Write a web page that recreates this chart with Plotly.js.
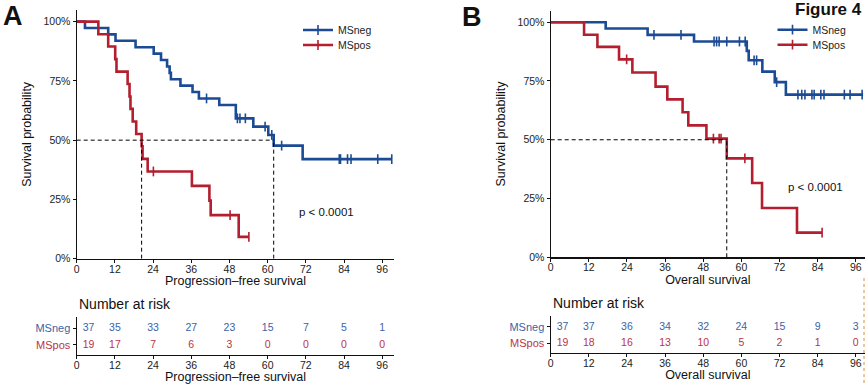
<!DOCTYPE html>
<html><head><meta charset="utf-8">
<script src="https://cdn.plot.ly/plotly-3.0.1.min.js"></script>
<style>html,body{margin:0;padding:0;background:#fff}#chart{width:865px;height:384px}</style>
</head><body><div id="chart"></div>
<script>
// ---- Data ----
const groups = ['MSneg', 'MSpos'];
const monthTicks = [0, 12, 24, 36, 48, 60, 72, 84, 96];

// Panel A: progression-free survival
const pfsNegTime = [0, 2.6, 9.9, 12.2, 18.5, 24.2, 26.5, 28.4, 29.2, 29.6, 32.6, 36.4, 38.4, 44.8, 50.0, 55.5, 60.2, 61.9, 71.0, 99.0];
const pfsNegSurv = [1, 0.973, 0.946, 0.919, 0.892, 0.865, 0.838, 0.811, 0.784, 0.757, 0.730, 0.703, 0.676, 0.648, 0.592, 0.557, 0.522, 0.477, 0.420, 0.420];
const pfsNegCens = [40.8, 50.5, 51.3, 53.0, 59.2, 61.3, 64.4, 82.5, 82.9, 85.1, 86.2, 94.6, 99.0];
const pfsPosTime = [0, 6.8, 9.9, 12.1, 12.5, 16.0, 16.6, 16.9, 17.6, 18.7, 20.4, 20.7, 22.3, 36.2, 41.7, 42.1, 50.9, 54.1];
const pfsPosSurv = [1, 0.947, 0.895, 0.842, 0.789, 0.737, 0.684, 0.632, 0.579, 0.526, 0.474, 0.421, 0.368, 0.307, 0.245, 0.184, 0.092, 0.092];
const pfsPosCens = [24.1, 48.2, 54.1];
const pfsRiskNeg = [37, 35, 33, 27, 23, 15, 7, 5, 1];
const pfsRiskPos = [19, 17, 7, 6, 3, 0, 0, 0, 0];

// Panel B: overall survival
const osNegTime = [0, 17.3, 30.5, 45.1, 61.7, 62.3, 66.6, 70.5, 74.0, 98.3];
const osNegSurv = [1, 0.973, 0.946, 0.918, 0.878, 0.838, 0.790, 0.745, 0.692, 0.692];
const osNegCens = [32.5, 41.0, 51.4, 52.2, 53.0, 55.4, 59.4, 61.2, 64.0, 64.8, 71.1, 77.8, 79.0, 80.0, 82.2, 82.9, 85.0, 86.0, 92.4, 94.2, 98.0];
const osPosTime = [0, 10.5, 14.7, 21.5, 25.7, 33.0, 36.7, 41.5, 43.3, 49.0, 55.4, 63.4, 66.5, 77.5, 85.4];
const osPosSurv = [1, 0.947, 0.895, 0.842, 0.786, 0.726, 0.672, 0.617, 0.561, 0.505, 0.421, 0.316, 0.210, 0.105, 0.105];
const osPosCens = [23.9, 51.2, 53.0, 53.6, 61.1, 85.4];
const osRiskNeg = [37, 37, 36, 34, 32, 24, 15, 9, 3];
const osRiskPos = [19, 18, 16, 13, 10, 5, 2, 1, 0];

const pText = 'p < 0.0001';

// ---- Styling ----
const W = 865, H = 384;
const FONT = 'Liberation Sans, Arial, sans-serif';
const blue = '#1c4b95', red = '#b31f2e';
const blueTxt = '#3b63a6', redTxt = '#bb3346';
const px = v => v / W, py = v => 1 - v / H;

function survAt(t, times, surv) {
  let s = surv[0];
  for (let i = 0; i < times.length; i++) if (times[i] <= t) s = surv[i];
  return s;
}
function median(times, surv) {
  for (let i = 0; i < surv.length; i++) if (surv[i] <= 0.5) return times[i];
  return null;
}

const traces = [];
function addPanel(xa, ya, defs, legNames) {
  const meds = [];
  defs.forEach((d, k) => {
    traces.push({x: d.time, y: d.surv, xaxis: xa, yaxis: ya, mode: 'lines', cliponaxis: false,
      line: {shape: 'hv', color: d.color, width: 2.6}, showlegend: false, hoverinfo: 'skip'});
    traces.push({x: d.cens, y: d.cens.map(t => survAt(t, d.time, d.surv)), xaxis: xa, yaxis: ya,
      mode: 'markers', cliponaxis: false,
      marker: {symbol: 'line-ns-open', size: 7, color: d.color, line: {color: d.color, width: 1.6}},
      showlegend: false, hoverinfo: 'skip'});
    traces.push({x: [null], y: [null], xaxis: xa, yaxis: ya, mode: 'lines+markers', name: d.name,
      legend: legNames[k], line: {color: d.color, width: 2.6},
      marker: {symbol: 'line-ns-open', size: 7, color: d.color, line: {color: d.color, width: 1.6}}});
    const m = median(d.time, d.surv);
    if (m !== null) meds.push(m);
  });
  if (meds.length) {
    const mx = Math.max(...meds);
    traces.push({x: [0, mx], y: [0.5, 0.5], xaxis: xa, yaxis: ya, mode: 'lines',
      line: {color: '#000', width: 1, dash: '4px,3px'}, showlegend: false, hoverinfo: 'skip'});
    meds.forEach(m => traces.push({x: [m, m], y: [0, 0.5], xaxis: xa, yaxis: ya, mode: 'lines',
      line: {color: '#000', width: 1, dash: '4px,3px'}, showlegend: false, hoverinfo: 'skip'}));
  }
}
addPanel('x', 'y', [
  {name: groups[0], time: pfsNegTime, surv: pfsNegSurv, cens: pfsNegCens, color: blue},
  {name: groups[1], time: pfsPosTime, surv: pfsPosSurv, cens: pfsPosCens, color: red}], ['legend', 'legend2']);
addPanel('x2', 'y2', [
  {name: groups[0], time: osNegTime, surv: osNegSurv, cens: osNegCens, color: blue},
  {name: groups[1], time: osPosTime, surv: osPosSurv, cens: osPosCens, color: red}], ['legend3', 'legend4']);

// first column of the risk table sits just right of the y axis, as in the original
const riskPos = monthTicks.map((t, i) => i === 0 ? 'middle right' : 'middle center');
const invisibleMarker = {size: 8, color: 'rgba(0,0,0,0)', line: {width: 0}};
function addRisk(xa, ya, neg, pos) {
  traces.push({x: monthTicks, y: monthTicks.map(() => 2), text: neg.map(String), mode: 'markers+text', cliponaxis: false,
    textposition: riskPos, marker: invisibleMarker,
    xaxis: xa, yaxis: ya, textfont: {family: FONT, size: 10.5, color: blueTxt}, showlegend: false, hoverinfo: 'skip'});
  traces.push({x: monthTicks, y: monthTicks.map(() => 1), text: pos.map(String), mode: 'markers+text', cliponaxis: false,
    textposition: riskPos, marker: invisibleMarker,
    xaxis: xa, yaxis: ya, textfont: {family: FONT, size: 10.5, color: redTxt}, showlegend: false, hoverinfo: 'skip'});
}
addRisk('x3', 'y3', pfsRiskNeg, pfsRiskPos);
addRisk('x4', 'y4', osRiskNeg, osRiskPos);

const tickFont = {family: FONT, size: 10.5, color: '#222'};
function xAxis(dom, rng, anchor, title, standoff) {
  return {domain: dom, range: rng, anchor: anchor, tickvals: monthTicks, showline: true, linecolor: '#111',
    linewidth: 1.2, ticks: 'outside', ticklen: 3, tickcolor: '#111', showgrid: false, zeroline: false,
    tickfont: tickFont, automargin: false, fixedrange: true, ticklabelstandoff: -3,
    title: {text: title, font: {family: FONT, size: 12.5, color: '#111'}, standoff: standoff}};
}
function yAxis(dom, anchor) {
  return {domain: dom, range: [0, 1.049], anchor: anchor, tickvals: [0, 0.25, 0.5, 0.75, 1],
    ticktext: ['0%', '25%', '50%', '75%', '100%'], showline: true, linecolor: '#111', linewidth: 1.2,
    ticks: 'outside', ticklen: 3, tickcolor: '#111', showgrid: false, zeroline: false, tickfont: tickFont,
    automargin: false, fixedrange: true,
    title: {text: 'Survival probability', font: {family: FONT, size: 12.5, color: '#111'}, standoff: 9}};
}
function riskY(dom, anchor) {
  return {domain: dom, range: [0.42, 2.67], anchor: anchor, tickvals: [1, 2],
    ticktext: ['<span style="color:' + redTxt + '">' + groups[1] + '</span>',
               '<span style="color:' + blueTxt + '">' + groups[0] + '</span>'],
    showline: true, linecolor: '#111', linewidth: 1.2, ticks: 'outside', ticklen: 3, tickcolor: '#111',
    showgrid: false, zeroline: false, tickfont: {family: FONT, size: 11, color: '#222'}, automargin: false, fixedrange: true};
}

const axA = [px(76.7), px(394.3)];
const axB = [px(550.7), 1];
const legCommon = {bgcolor: 'rgba(0,0,0,0)', font: {family: FONT, size: 10.5, color: '#222'},
  xanchor: 'left', yanchor: 'middle', borderwidth: 0, itemclick: false};

function ann(text, x, y, size, xanchor) {
  return {text: text, x: px(x), y: py(y), xref: 'paper', yref: 'paper', showarrow: false,
    xanchor: xanchor || 'center', yanchor: 'middle', font: {family: FONT, size: size, color: '#111'}};
}

const layout = {
  width: W, height: H, margin: {l: 0, r: 0, t: 0, b: 0}, paper_bgcolor: '#fff', plot_bgcolor: 'rgba(0,0,0,0)',
  font: {family: FONT},
  xaxis: xAxis(axA, [0, 99.8], 'y', 'Progression–free survival', 0),
  yaxis: yAxis([py(258.7), py(10)], 'x'),
  xaxis2: xAxis(axB, [0, 98.9], 'y2', 'Overall survival', 0),
  yaxis2: yAxis([py(257.3), py(10.7)], 'x2'),
  xaxis3: xAxis(axA, [0, 99.8], 'y3', 'Progression–free survival', 2),
  yaxis3: riskY([py(354.7), py(316.7)], 'x3'),
  xaxis4: xAxis(axB, [0, 98.9], 'y4', 'Overall survival', 2),
  yaxis4: riskY([py(352.7), py(316)], 'x4'),
  legend: Object.assign({x: px(298), y: py(30)}, legCommon),
  legend2: Object.assign({x: px(298), y: py(45)}, legCommon),
  legend3: Object.assign({x: px(772.5), y: py(29.7)}, legCommon),
  legend4: Object.assign({x: px(772.5), y: py(44.7)}, legCommon),
  annotations: [
    ann('<b>A</b>', 13, 16, 27),
    ann('<b>B</b>', 472, 16.5, 27),
    ann('<b>Figure 4</b>', 828, 10, 17),
    ann(pText, 326.5, 212, 11.5),
    ann(pText, 815, 187, 11.5),
    ann('Number at risk', 77, 304.3, 14, 'left'),
    ann('Number at risk', 550.7, 302.7, 14, 'left')
  ],
  shapes: [
    {type: 'line', xref: 'paper', yref: 'paper', x0: px(864), x1: px(864), y0: py(278), y1: 0,
      line: {color: '#d39046', width: 1, dash: 'dot'}}
  ]
};

Plotly.newPlot('chart', traces, layout, {displayModeBar: false, staticPlot: true});
</script>
</body></html>
